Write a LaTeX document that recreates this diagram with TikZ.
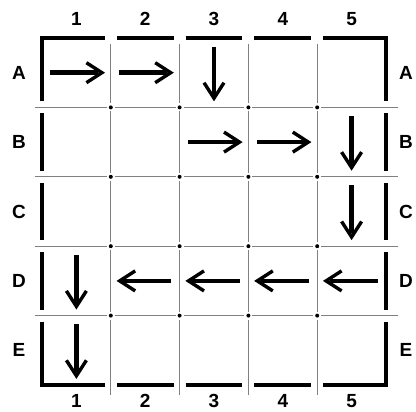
\documentclass[tikz,border=0pt]{standalone}
\usepackage{fontspec}
\setmainfont{Liberation Sans}
\begin{document}
\begin{tikzpicture}[x=1pt,y=-1pt,
  frame/.style={line width=4pt, line cap=butt, line join=miter},
  sep/.style={line width=1.3pt, draw=black!50},
  gdot/.style={fill=black, draw=none},
  lbl/.style={font=\fontsize{19}{19}\selectfont\bfseries, inner sep=0pt},
  shaft/.style={line width=4.5pt},
  head/.style={line width=3.4pt, line join=miter},
  arr/.pic={\draw[shaft] (-26,0) -- (22,0); \draw[head] (10,-10) -- (25.5,0) -- (10,10);}
]
\useasboundingbox (0,0) rectangle (416,412);
% grid coordinates
\foreach \i in {0,...,5} {
  \coordinate (X\i) at ({42+68.8*\i},0);
  \coordinate (Y\i) at (0,{38+69.4*\i});
}
\foreach \r [count=\ri] in {A,B,C,D,E} {
  \foreach \c in {1,...,5} {
    \coordinate (cell-\r\c) at ({42+68.8*(\c-0.5)},{38+69.4*(\ri-0.5)});
  }
}
% thin separators
\foreach \i in {1,...,4} {
  \draw[sep] ([yshift=-6pt]X\i |- Y0) -- ([yshift=4pt]X\i |- Y1);
  \draw[sep] ([yshift=-4pt]X\i |- Y4) -- ([yshift=-10pt]X\i |- Y5);
  \draw[sep] ([xshift=-7pt]X0 |- Y\i) -- ([xshift=-4pt]X1 |- Y\i);
  \draw[sep] ([xshift=4pt]X4 |- Y\i) -- ([xshift=12pt]X5 |- Y\i);
  \foreach \j [evaluate=\j as \k using int(\j+1)] in {1,2,3} {
    \draw[sep] ([yshift=-4pt]X\i |- Y\j) -- ([yshift=4pt]X\i |- Y\k);
    \draw[sep] ([xshift=4pt]X\j |- Y\i) -- ([xshift=-4pt]X\k |- Y\i);
  }
  \foreach \j in {1,...,4} {
    \fill[gdot] (X\i |- Y\j) circle (2pt);
  }
}
% thick frame
\draw[frame] ([yshift=6pt]X0 |- Y1) -- (X0 |- Y0) -- ([xshift=-6pt]X1 |- Y0);
\draw[frame] ([xshift=6pt]X4 |- Y0) -- (X5 |- Y0) -- ([yshift=6pt]X5 |- Y1);
\draw[frame] ([yshift=-6pt]X0 |- Y4) -- (X0 |- Y5) -- ([xshift=-6pt]X1 |- Y5);
\draw[frame] ([xshift=6pt]X4 |- Y5) -- (X5 |- Y5) -- ([yshift=-6pt]X5 |- Y4);
\foreach \j [evaluate=\j as \k using int(\j+1)] in {1,2,3} {
  \draw[frame] ([xshift=6pt]X\j |- Y0) -- ([xshift=-6pt]X\k |- Y0);
  \draw[frame] ([xshift=6pt]X\j |- Y5) -- ([xshift=-6pt]X\k |- Y5);
  \draw[frame] ([yshift=-6pt]X0 |- Y\j) -- ([yshift=6pt]X0 |- Y\k);
  \draw[frame] ([yshift=-6pt]X5 |- Y\j) -- ([yshift=6pt]X5 |- Y\k);
}
% labels
\foreach \c in {1,...,5} {
  \node[lbl] (top\c) at ({42+68.8*(\c-0.5)},19) {\c};
  \node[lbl] (bot\c) at ({42+68.8*(\c-0.5)},401) {\c};
}
\foreach \r [count=\ri] in {A,B,C,D,E} {
  \node[lbl] (left\r) at (19,{38+69.4*(\ri-0.5)}) {\r};
  \node[lbl] (right\r) at (406,{38+69.4*(\ri-0.5)}) {\r};
}
% arrows
\foreach \p in {A1,A2,B3,B4} { \pic at (cell-\p) {arr}; }
\foreach \p in {A3,B5,C5,D1,E1} { \pic[rotate=-90] at (cell-\p) {arr}; }
\foreach \p in {D2,D3,D4,D5} { \pic[rotate=180] at (cell-\p) {arr}; }
\end{tikzpicture}
\end{document}
